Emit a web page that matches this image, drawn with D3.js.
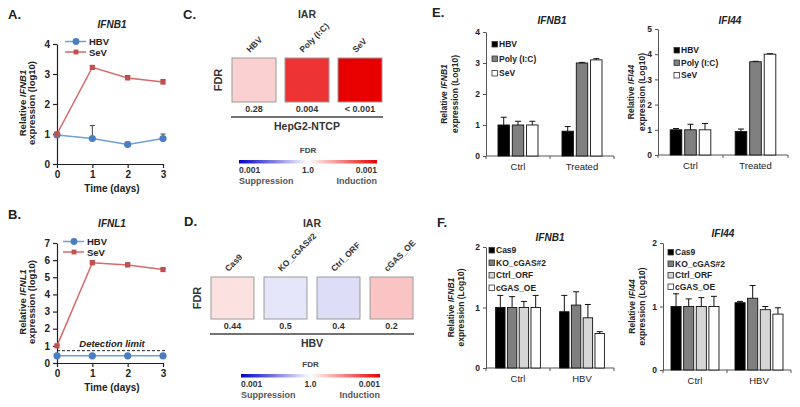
<!DOCTYPE html>
<html><head><meta charset="utf-8">
<script src="https://cdn.jsdelivr.net/npm/d3@7"></script>
<style>
body{margin:0;background:#fff;}
svg{display:block;font-family:"Liberation Sans",Arial,sans-serif;}
text{fill:#222;}
</style></head>
<body><svg id="fig" width="800" height="407"></svg>
<script>
// ---------------- DATA ----------------
const timeDays = [0, 1, 2, 3];
const timeTicksA = [0, 1, 2, 3, 4];
const timeTicksB = [0, 1, 2, 3, 4, 5, 6, 7];
const ifnb1HBV = [0.97, 0.85, 0.65, 0.85];
const ifnb1HBVErr = [0.05, 0.43, 0.08, 0.15];
const ifnb1SeV = [1.0, 3.22, 2.87, 2.73];
const ifnb1SeVErr = [0.05, 0.06, 0.08, 0.08];
const ifnl1HBV = [0.42, 0.42, 0.42, 0.42];
const ifnl1HBVErr = [0, 0, 0, 0];
const ifnl1SeV = [1.0, 5.85, 5.72, 5.45];
const ifnl1SeVErr = [0.05, 0.12, 0.12, 0.05];
const detectionLimit = 0.72;

const heatCCats = ["HBV", "Poly (I:C)", "SeV"];
const heatCFdr = [0.28, 0.004, 0.001];
const heatCDir = [1, 1, 1];
const heatCLabels = ["0.28", "0.004", "< 0.001"];

const heatDCats = ["Cas9", "KO_cGAS#2", "Ctrl_ORF", "cGAS_OE"];
const heatDFdr = [0.44, 0.5, 0.4, 0.2];
const heatDDir = [1, -1, -1, 1];
const heatDLabels = ["0.44", "0.5", "0.4", "0.2"];

const eGroups = ["Ctrl", "Treated"];
const eSeries = ["HBV", "Poly (I:C)", "SeV"];
const eIfnb1 = [[1.0, 0.8], [1.0, 3.0], [1.0, 3.1]];
const eIfnb1Err = [[0.25, 0.15], [0.12, 0.02], [0.12, 0.04]];
const eIfi44 = [[1.0, 0.93], [1.0, 3.7], [1.0, 4.0]];
const eIfi44Err = [[0.05, 0.1], [0.22, 0.02], [0.25, 0.02]];

const fGroups = ["Ctrl", "HBV"];
const fSeries = ["Cas9", "KO_cGAS#2", "Ctrl_ORF", "cGAS_OE"];
const fIfnb1 = [[1.0, 0.93], [1.0, 1.04], [1.0, 0.83], [1.0, 0.57]];
const fIfnb1Err = [[0.2, 0.27], [0.18, 0.22], [0.1, 0.22], [0.2, 0.03]];
const fIfi44 = [[1.0, 1.06], [1.0, 1.13], [1.0, 0.95], [1.0, 0.88]];
const fIfi44Err = [[0.2, 0.02], [0.12, 0.2], [0.14, 0.05], [0.16, 0.1]];

// ---------------- DRAW ----------------
const svg = d3.select("#fig");
const FONT = '"Liberation Sans",Arial,sans-serif';

function label(g, x, y, txt, opt = {}) {
  const t = g.append("text").attr("x", x).attr("y", y)
    .attr("font-size", opt.size || 10).attr("font-weight", opt.weight || "bold")
    .attr("text-anchor", opt.anchor || "start")
    .style("fill", opt.fill || "#222");
  if (opt.italic) t.attr("font-style", "italic");
  if (opt.rotate !== undefined) t.attr("transform", `rotate(${opt.rotate},${x},${y})`);
  t.text(txt);
  return t;
}

function yLabel2(g, x1, x2, cy, gene, unit, size) {
  const t1 = g.append("text").attr("transform", `translate(${x1},${cy}) rotate(-90)`)
    .attr("text-anchor", "middle").attr("font-size", size).attr("font-weight", "bold");
  t1.append("tspan").text("Relative ");
  t1.append("tspan").attr("font-style", "italic").text(gene);
  g.append("text").attr("transform", `translate(${x2},${cy}) rotate(-90)`)
    .attr("text-anchor", "middle").attr("font-size", size).attr("font-weight", "bold")
    .text("expression (" + unit + ")");
}

function styleAxis(ax, fs) {
  ax.selectAll("path,line").attr("stroke", "#222").attr("stroke-width", 1.2);
  ax.selectAll("text").attr("font-size", fs).attr("font-weight", "bold")
    .attr("font-family", FONT).style("fill", "#222");
}

// Panel letters
label(svg, 8, 19, "A.", { size: 13 });
label(svg, 8, 219, "B.", { size: 13 });
label(svg, 183, 19, "C.", { size: 13 });
label(svg, 184, 226, "D.", { size: 13 });
label(svg, 432, 17, "E.", { size: 13 });
label(svg, 437, 227, "F.", { size: 13 });

const hbvLine = "#6f9fd6", hbvMark = "#4a7ec0";
const sevLine = "#d46a6a", sevMark = "#c0504d";

function lineChart(cfg) {
  const g = svg.append("g");
  const x = d3.scaleLinear().domain([0, 3]).range([cfg.x0, cfg.x1]);
  const y = d3.scaleLinear().domain([0, cfg.yMax]).range([cfg.yB, cfg.yT]);
  if (cfg.limit !== undefined) {
    g.append("line").attr("x1", cfg.x0).attr("x2", cfg.x1 + 4)
      .attr("y1", y(cfg.limit)).attr("y2", y(cfg.limit))
      .attr("stroke", "#222").attr("stroke-width", 1).attr("stroke-dasharray", "3,2");
    label(g, (cfg.x0 + cfg.x1) / 2 + 2, y(cfg.limit) - 4, "Detection limit", { size: 9.5, italic: true, anchor: "middle" });
  }
  const ax = g.append("g").attr("transform", `translate(${cfg.x0},0)`)
    .call(d3.axisLeft(y).tickValues(cfg.yTicks).tickSize(4).tickSizeOuter(0).tickFormat(d3.format("d")));
  styleAxis(ax, 10);
  const bx = g.append("g").attr("transform", `translate(0,${cfg.yB})`)
    .call(d3.axisBottom(x).tickValues(timeDays).tickSize(4).tickSizeOuter(0).tickFormat(d3.format("d")));
  styleAxis(bx, 10);
  const series = [
    { v: cfg.hbv, e: cfg.hbvErr, line: hbvLine, mark: hbvMark, shape: "circle" },
    { v: cfg.sev, e: cfg.sevErr, line: sevLine, mark: sevMark, shape: "square" }
  ];
  series.forEach(s => {
    timeDays.forEach((d, i) => {
      if (s.e[i] > 0) {
        const xx = x(d), y0 = y(s.v[i]), y1 = y(s.v[i] + s.e[i]);
        g.append("line").attr("x1", xx).attr("x2", xx).attr("y1", y0).attr("y2", y1).attr("stroke", "#444").attr("stroke-width", 1);
        g.append("line").attr("x1", xx - 2.5).attr("x2", xx + 2.5).attr("y1", y1).attr("y2", y1).attr("stroke", "#444").attr("stroke-width", 1);
      }
    });
    g.append("path").datum(timeDays.map((d, i) => [x(d), y(s.v[i])]))
      .attr("d", d3.line()).attr("fill", "none").attr("stroke", s.line).attr("stroke-width", 1.5);
    timeDays.forEach((d, i) => {
      if (s.shape === "circle")
        g.append("circle").attr("cx", x(d)).attr("cy", y(s.v[i])).attr("r", 3.6).attr("fill", s.mark);
      else
        g.append("rect").attr("x", x(d) - 2.6).attr("y", y(s.v[i]) - 2.6).attr("width", 5.2).attr("height", 5.2).attr("fill", s.mark);
    });
  });
  [["HBV", hbvLine, hbvMark, "circle"], ["SeV", sevLine, sevMark, "square"]].forEach((l, i) => {
    const ly = cfg.legY + i * 10.5;
    g.append("line").attr("x1", cfg.legX).attr("x2", cfg.legX + 21).attr("y1", ly).attr("y2", ly).attr("stroke", l[1]).attr("stroke-width", 1.5);
    if (l[3] === "circle") g.append("circle").attr("cx", cfg.legX + 11).attr("cy", ly).attr("r", 3.4).attr("fill", l[2]);
    else g.append("rect").attr("x", cfg.legX + 8.6).attr("y", ly - 2.4).attr("width", 4.8).attr("height", 4.8).attr("fill", l[2]);
    label(g, cfg.legX + 24, ly + 3.5, l[0], { size: 9.5 });
  });
  label(g, (cfg.x0 + cfg.x1) / 2 + 2, cfg.titleY, cfg.gene, { size: 10, italic: true, anchor: "middle" });
  label(g, (cfg.x0 + cfg.x1) / 2 + 2, cfg.yB + 28, "Time (days)", { size: 10, anchor: "middle" });
  yLabel2(g, 26, 35, (cfg.yT + cfg.yB) / 2 - 1, cfg.gene, "log10", 9.5);
}

lineChart({ x0: 57, x1: 163, yT: 44, yB: 164, yMax: 4, yTicks: timeTicksA, hbv: ifnb1HBV, hbvErr: ifnb1HBVErr, sev: ifnb1SeV, sevErr: ifnb1SeVErr, gene: "IFNB1", titleY: 28, legX: 65, legY: 41.5 });
lineChart({ x0: 57, x1: 163, yT: 243, yB: 363, yMax: 7, yTicks: timeTicksB, hbv: ifnl1HBV, hbvErr: ifnl1HBVErr, sev: ifnl1SeV, sevErr: ifnl1SeVErr, gene: "IFNL1", titleY: 227, legX: 63, legY: 241.5, limit: detectionLimit });

// ---------------- HEATMAPS ----------------
const heatColor = s => s >= 0 ? d3.interpolateRgb("#ffffff", "#e80000")(s) : d3.interpolateRgb("#ffffff", "#0000c8")(-s);
const scoreOf = (fdr, dir) => dir * Math.min(1, -Math.log10(fdr) / 3);

const defs = svg.append("defs");
const grad = defs.append("linearGradient").attr("id", "fdrGrad");
[[0, "#0000c8"], [0.5, "#ffffff"], [1, "#e80000"]].forEach(s => grad.append("stop").attr("offset", s[0]).attr("stop-color", s[1]));

function heatmap(cfg) {
  const g = svg.append("g");
  const x = d3.scaleBand().domain(cfg.cats).range([cfg.x0, cfg.x1]).paddingInner(cfg.pad).paddingOuter(0);
  cfg.cats.forEach((c, i) => {
    g.append("rect").attr("x", x(c)).attr("y", cfg.yT).attr("width", x.bandwidth()).attr("height", cfg.h)
      .attr("fill", heatColor(scoreOf(cfg.fdr[i], cfg.dir[i]))).attr("stroke", "#9a9a9a").attr("stroke-width", 1);
    const cx = x(c) + x.bandwidth() / 2;
    label(g, cx - 4, cfg.yT - 5, c, { size: 8.5, rotate: -45, fill: "#333" });
    label(g, cx, cfg.yT + cfg.h + 10, cfg.labels[i], { size: 9, anchor: "middle", fill: "#333" });
  });
  g.append("line").attr("x1", cfg.x0 - 1).attr("x2", cfg.x1 + 1).attr("y1", cfg.yT + cfg.h + 15).attr("y2", cfg.yT + cfg.h + 15)
    .attr("stroke", "#444").attr("stroke-width", 1.5);
  label(g, (cfg.x0 + cfg.x1) / 2, cfg.yT + cfg.h + 28, cfg.group, { size: 10.5, anchor: "middle", fill: "#333" });
  label(g, (cfg.x0 + cfg.x1) / 2, cfg.titleY, "IAR", { size: 10.5, anchor: "middle", fill: "#333" });
  label(g, cfg.fdrX, cfg.yT + cfg.h / 2, "FDR", { size: 11, anchor: "middle", rotate: -90, fill: "#333" });
  const lx0 = cfg.legX0, lx1 = cfg.legX1, ly = cfg.legY;
  label(g, (lx0 + lx1) / 2, ly - 7, "FDR", { size: 8, anchor: "middle", fill: "#444" });
  g.append("rect").attr("x", lx0).attr("y", ly).attr("width", lx1 - lx0).attr("height", 3.5).attr("fill", "url(#fdrGrad)");
  label(g, lx0, ly + 13, "0.001", { size: 8.5, fill: "#333" });
  label(g, (lx0 + lx1) / 2, ly + 13, "1.0", { size: 8.5, anchor: "middle", fill: "#333" });
  label(g, lx1, ly + 13, "0.001", { size: 8.5, anchor: "end", fill: "#333" });
  label(g, lx0, ly + 24, "Suppression", { size: 9, fill: "#555" });
  label(g, lx1, ly + 24, "Induction", { size: 9, anchor: "end", fill: "#555" });
}

heatmap({ cats: heatCCats, fdr: heatCFdr, dir: heatCDir, labels: heatCLabels, x0: 232, x1: 382, pad: 0.17, yT: 58, h: 44, group: "HepG2-NTCP", titleY: 18, fdrX: 222, legX0: 239, legX1: 377, legY: 160 });
heatmap({ cats: heatDCats, fdr: heatDFdr, dir: heatDDir, labels: heatDLabels, x0: 211, x1: 413, pad: 0.19, yT: 277, h: 42, group: "HBV", titleY: 227, fdrX: 201, legX0: 241, legX1: 380, legY: 374 });

// ---------------- BAR CHARTS ----------------
function barChart(cfg) {
  const g = svg.append("g");
  const x0 = d3.scaleBand().domain(cfg.groups).range([cfg.x0, cfg.x1]).paddingInner(cfg.gpad).paddingOuter(cfg.gpad / 2);
  const x1 = d3.scaleBand().domain(cfg.series).range([0, x0.bandwidth()]).paddingInner(0.2).paddingOuter(0);
  const y = d3.scaleLinear().domain([0, cfg.yMax]).range([cfg.yB, cfg.yT]);
  const ax = g.append("g").attr("transform", `translate(${cfg.x0},0)`)
    .call(d3.axisLeft(y).tickValues(d3.range(0, cfg.yMax + 1)).tickSize(3).tickSizeOuter(0).tickFormat(d3.format("d")));
  styleAxis(ax, 8.5);
  ax.selectAll("path,line").attr("stroke", "#555").attr("stroke-width", 1);
  g.append("line").attr("x1", cfg.x0).attr("x2", cfg.x1).attr("y1", cfg.yB).attr("y2", cfg.yB).attr("stroke", "#555").attr("stroke-width", 1);
  [cfg.x0, (cfg.x0 + cfg.x1) / 2, cfg.x1].forEach(t =>
    g.append("line").attr("x1", t).attr("x2", t).attr("y1", cfg.yB).attr("y2", cfg.yB + 3).attr("stroke", "#555").attr("stroke-width", 1));
  cfg.groups.forEach((gr, gi) => {
    label(g, x0(gr) + x0.bandwidth() / 2, cfg.yB + 14, gr, { size: 9.5, anchor: "middle", weight: "normal" });
    cfg.series.forEach((s, si) => {
      const v = cfg.vals[si][gi], e = cfg.errs[si][gi];
      const bx = x0(gr) + x1(s);
      g.append("line").attr("x1", bx + x1.bandwidth() / 2).attr("x2", bx + x1.bandwidth() / 2)
        .attr("y1", y(v)).attr("y2", y(v + e)).attr("stroke", "#111").attr("stroke-width", 1);
      g.append("line").attr("x1", bx + x1.bandwidth() / 2 - 3).attr("x2", bx + x1.bandwidth() / 2 + 3)
        .attr("y1", y(v + e)).attr("y2", y(v + e)).attr("stroke", "#111").attr("stroke-width", 1);
      g.append("rect").attr("x", bx).attr("y", y(v)).attr("width", x1.bandwidth()).attr("height", cfg.yB - y(v))
        .attr("fill", cfg.colors[si]).attr("stroke", "#111").attr("stroke-width", 0.9);
    });
  });
  cfg.series.forEach((s, si) => {
    const ly = cfg.legY + si * cfg.legStep;
    g.append("rect").attr("x", cfg.legX).attr("y", ly - 5.5).attr("width", 5.5).attr("height", 5.5)
      .attr("fill", cfg.colors[si]).attr("stroke", "#333").attr("stroke-width", 0.8);
    label(g, cfg.legX + 7, ly, s, { size: 8.5, fill: "#222" });
  });
  label(g, cfg.titleX, cfg.titleY, cfg.gene, { size: 10, italic: true, anchor: "middle" });
  yLabel2(g, cfg.ylx1, cfg.ylx2, (cfg.yT + cfg.yB) / 2, cfg.gene, "Log10", 8.5);
}

const eColors = ["#000000", "#808080", "#ffffff"];
const fColors = ["#000000", "#7f7f7f", "#d6d6d6", "#ffffff"];

barChart({ groups: eGroups, series: eSeries, vals: eIfnb1, errs: eIfnb1Err, colors: eColors, x0: 486, x1: 614, gpad: 0.375, yT: 32, yB: 156, yMax: 4, gene: "IFNB1", titleX: 552, titleY: 24, legX: 492, legY: 47, legStep: 14.5, ylx1: 447, ylx2: 458 });
barChart({ groups: eGroups, series: eSeries, vals: eIfi44, errs: eIfi44Err, colors: eColors, x0: 658, x1: 788, gpad: 0.375, yT: 29, yB: 155, yMax: 5, gene: "IFI44", titleX: 730, titleY: 24, legX: 674, legY: 53, legStep: 12.5, ylx1: 634, ylx2: 645 });
barChart({ groups: fGroups, series: fSeries, vals: fIfnb1, errs: fIfnb1Err, colors: fColors, x0: 486, x1: 614, gpad: 0.3, yT: 247, yB: 368, yMax: 2, gene: "IFNB1", titleX: 550, titleY: 241, legX: 489, legY: 253, legStep: 12.5, ylx1: 454, ylx2: 464 });
barChart({ groups: fGroups, series: fSeries, vals: fIfi44, errs: fIfi44Err, colors: fColors, x0: 663, x1: 791, gpad: 0.25, yT: 243, yB: 370, yMax: 2, gene: "IFI44", titleX: 723, titleY: 237, legX: 668, legY: 255, legStep: 11.5, ylx1: 635, ylx2: 645 });
</script></body></html>
